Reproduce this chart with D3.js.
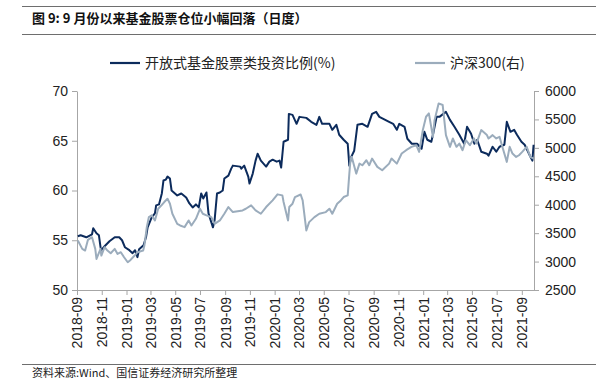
<!DOCTYPE html>
<html>
<head>
<meta charset="utf-8">
<script src="https://cdn.jsdelivr.net/npm/d3@7"></script>
<style>
  body { margin: 0; background: #fff; }
  svg text { font-family: "Liberation Sans", Arial, sans-serif; }
  .cjk { font-family: "Noto Sans CJK SC", sans-serif; }
</style>
</head>
<body>
<div id="visual"></div>
<script>
// series 1: 开放式基金股票类投资比例(%) - left axis
const fundDates = ["2018-09-03","2018-09-10","2018-09-24","2018-10-08","2018-10-11","2018-10-19","2018-10-25","2018-10-29","2018-10-31","2018-11-08","2018-11-20","2018-12-03","2018-12-14","2018-12-21","2018-12-28","2019-01-08","2019-01-16","2019-01-22","2019-01-28","2019-02-01","2019-02-12","2019-02-18","2019-02-22","2019-03-04","2019-03-12","2019-03-15","2019-03-22","2019-03-29","2019-04-02","2019-04-08","2019-04-12","2019-04-18","2019-04-22","2019-05-06","2019-05-16","2019-05-28","2019-06-05","2019-06-13","2019-06-21","2019-06-28","2019-07-04","2019-07-09","2019-07-17","2019-07-22","2019-07-29","2019-08-02","2019-08-06","2019-08-12","2019-08-19","2019-08-26","2019-08-30","2019-09-09","2019-09-16","2019-09-20","2019-10-08","2019-10-11","2019-10-18","2019-10-28","2019-10-31","2019-11-08","2019-11-15","2019-11-20","2019-11-28","2019-12-11","2019-12-19","2019-12-27","2020-01-06","2020-01-13","2020-01-17","2020-01-23","2020-02-03","2020-02-05","2020-02-14","2020-02-24","2020-03-02","2020-03-19","2020-03-31","2020-04-13","2020-04-20","2020-04-27","2020-05-15","2020-05-22","2020-06-01","2020-06-08","2020-06-19","2020-06-29","2020-07-03","2020-07-08","2020-07-15","2020-07-23","2020-08-04","2020-08-17","2020-08-28","2020-09-07","2020-09-15","2020-10-09","2020-10-19","2020-10-28","2020-11-03","2020-11-16","2020-11-23","2020-12-04","2020-12-17","2020-12-28","2021-01-04","2021-01-11","2021-01-21","2021-01-25","2021-02-03","2021-02-10","2021-02-26","2021-03-08","2021-03-19","2021-03-31","2021-04-12","2021-04-19","2021-04-29","2021-05-07","2021-05-14","2021-05-24","2021-06-07","2021-06-11","2021-06-21","2021-06-30","2021-07-08","2021-07-20","2021-07-26","2021-08-04","2021-08-13","2021-08-20","2021-08-31","2021-09-08","2021-09-22","2021-09-27","2021-09-30"];
const fundRatio = [55.4,55.5,55.3,55.6,56.2,55.7,55.5,54.3,54.0,54.4,54.9,55.3,55.3,55.0,54.3,54.0,53.7,54.0,53.3,54.1,54.5,55.3,56.3,57.3,57.7,58.5,58.6,59.7,61.0,61.1,61.4,61.2,60.0,59.5,59.7,59.3,58.7,58.3,58.6,58.3,59.7,59.2,59.8,57.7,56.8,56.3,57.0,59.7,59.8,60.0,61.2,61.5,62.2,62.5,62.4,62.2,62.5,61.4,60.7,61.7,63.0,63.7,63.0,62.4,62.9,63.1,62.9,63.0,62.3,64.9,65.1,67.7,67.6,66.7,67.4,67.3,66.9,66.6,67.4,66.7,66.7,66.1,66.6,65.6,65.1,64.7,62.5,63.4,64.0,66.6,66.7,66.4,67.7,67.9,67.4,66.9,66.7,66.1,66.7,66.4,65.2,64.7,64.7,64.2,65.9,65.1,64.9,65.6,67.4,67.4,67.9,67.1,66.4,65.6,64.7,66.4,65.7,64.7,65.1,63.9,63.7,63.5,64.4,63.9,64.4,64.6,66.9,65.9,66.1,65.6,64.9,64.6,63.4,63.0,64.6];

// series 2: 沪深300 - right axis
const csiDates = ["2018-09-03","2018-09-14","2018-09-21","2018-09-28","2018-10-08","2018-10-16","2018-10-19","2018-10-29","2018-10-31","2018-11-08","2018-11-15","2018-11-23","2018-12-03","2018-12-10","2018-12-18","2018-12-26","2019-01-04","2019-01-11","2019-01-21","2019-01-28","2019-02-11","2019-02-14","2019-02-20","2019-02-25","2019-03-04","2019-03-12","2019-03-20","2019-03-28","2019-04-04","2019-04-12","2019-04-18","2019-04-24","2019-05-06","2019-05-13","2019-05-24","2019-06-03","2019-06-10","2019-06-21","2019-07-01","2019-07-08","2019-07-17","2019-07-29","2019-08-06","2019-08-19","2019-08-30","2019-09-09","2019-09-20","2019-10-14","2019-10-22","2019-11-04","2019-11-15","2019-11-28","2019-12-11","2019-12-27","2020-01-08","2020-01-20","2020-01-23","2020-02-03","2020-02-06","2020-02-14","2020-02-20","2020-03-05","2020-03-10","2020-03-16","2020-03-19","2020-03-26","2020-04-08","2020-04-20","2020-05-06","2020-05-15","2020-05-22","2020-06-03","2020-06-12","2020-06-19","2020-06-29","2020-07-03","2020-07-06","2020-07-09","2020-07-20","2020-07-28","2020-08-04","2020-08-14","2020-08-21","2020-08-28","2020-09-10","2020-09-22","2020-10-09","2020-10-15","2020-10-28","2020-11-09","2020-11-20","2020-12-03","2020-12-15","2020-12-22","2020-12-31","2021-01-08","2021-01-15","2021-01-25","2021-01-29","2021-02-08","2021-02-18","2021-02-26","2021-03-08","2021-03-15","2021-03-24","2021-03-31","2021-04-08","2021-04-16","2021-04-26","2021-05-06","2021-05-12","2021-05-24","2021-06-07","2021-06-11","2021-06-21","2021-06-30","2021-07-08","2021-07-15","2021-07-26","2021-08-02","2021-08-09","2021-08-18","2021-08-25","2021-09-02","2021-09-13","2021-09-22","2021-09-30"];
const csi300 = [3370,3223,3194,3382,3429,3223,3047,3223,3106,3253,3194,3147,3223,3135,3165,3076,2988,3029,3106,3165,3194,3282,3606,3782,3812,3723,3929,3988,4047,4106,4018,3841,3664,3635,3606,3723,3635,3753,3929,3841,3812,3782,3664,3723,3841,3959,3870,3900,3929,3988,3900,3841,3959,4076,4182,4164,4047,3723,3959,4018,4135,4180,4076,3723,3547,3694,3782,3841,3870,3929,3841,4018,4076,4135,4164,4547,4812,4841,4547,4723,4694,4782,4694,4812,4665,4606,4723,4812,4723,4900,4959,5018,5047,4929,5312,5547,5606,5194,5488,5782,5753,5224,5018,5165,5018,5076,4959,5135,5047,5165,5076,5312,5224,5165,5224,5165,5194,5018,4753,5018,4900,4841,4870,4929,5018,4841,4812];

const leftTicks = [50, 55, 60, 65, 70];
const rightTicks = [2500, 3000, 3500, 4000, 4500, 5000, 5500, 6000];
const seriesNames = ["开放式基金股票类投资比例(%)", "沪深300(右)"];

const COLORS = { fund: "#0c2b5c", csi: "#9bacbc", axis: "#a6a6a6", rule: "#6e6e6e" };

let width = 606, height = 388;
let plot = { left: 77, right: 534, top: 91, bottom: 290 };

let svg = d3.select("#visual").append("svg")
    .attr("width", width)
    .attr("height", height)
    .style("background", "#fff");

let parse = d3.timeParse("%Y-%m-%d");

let x = d3.scaleTime()
    .domain([parse("2018-09-01"), parse("2021-10-01")])
    .range([plot.left, plot.right]);
let yL = d3.scaleLinear().domain([50, 70]).range([plot.bottom, plot.top]);
let yR = d3.scaleLinear().domain([2500, 6000]).range([plot.bottom, plot.top]);

// title block with rules
svg.append("line").attr("x1", 22).attr("x2", 596).attr("y1", 6.5).attr("y2", 6.5)
    .attr("stroke", COLORS.rule).attr("stroke-width", 1);
svg.append("text").attr("class", "cjk")
    .attr("x", 32).attr("y", 23)
    .style("font-size", "13px").style("font-weight", "700").style("fill", "#111")
    .text("图 9:  9 月份以来基金股票仓位小幅回落（日度）");
svg.append("line").attr("x1", 22).attr("x2", 596).attr("y1", 34.5).attr("y2", 34.5)
    .attr("stroke", COLORS.rule).attr("stroke-width", 1);

// legend
let legend = [
    { name: seriesNames[0], color: COLORS.fund, x: 110 },
    { name: seriesNames[1], color: COLORS.csi, x: 415 }
];
legend.forEach(function (d) {
    svg.append("line").attr("x1", d.x).attr("x2", d.x + 30).attr("y1", 63).attr("y2", 63)
        .attr("stroke", d.color).attr("stroke-width", 2.2);
    svg.append("text").attr("class", "cjk")
        .attr("x", d.x + 35).attr("y", 68)
        .style("font-size", "14px").style("fill", "#222")
        .text(d.name);
});

// axes
function styleAxis(g) {
    g.select(".domain").attr("stroke", COLORS.axis);
    g.selectAll(".tick line").attr("stroke", COLORS.axis);
    g.selectAll(".tick text").style("font-size", "14px").style("fill", "#222")
        .style("font-family", "Liberation Sans, Arial, sans-serif");
}

svg.append("g")
    .attr("transform", "translate(" + plot.left + ",0)")
    .call(d3.axisLeft(yL).tickValues(leftTicks).tickSize(5).tickPadding(4).tickSizeOuter(0))
    .call(styleAxis);

svg.append("g")
    .attr("transform", "translate(" + plot.right + ",0)")
    .call(d3.axisRight(yR).tickValues(rightTicks).tickFormat(d3.format("d"))
        .tickSize(5).tickPadding(6).tickSizeOuter(0))
    .call(styleAxis);

let xAxis = svg.append("g")
    .attr("transform", "translate(0," + plot.bottom + ")")
    .call(d3.axisBottom(x).ticks(d3.timeMonth.every(2)).tickFormat(d3.timeFormat("%Y-%m"))
        .tickSize(5).tickSizeOuter(0))
    .call(styleAxis);
xAxis.selectAll(".tick text")
    .attr("transform", "rotate(-90)")
    .attr("text-anchor", "end")
    .attr("x", -7)
    .attr("y", 0)
    .attr("dy", "0.35em");

// lines
let fundData = fundDates.map(function (d, i) { return { date: parse(d), value: fundRatio[i] }; });
let csiData = csiDates.map(function (d, i) { return { date: parse(d), value: csi300[i] }; });

let lineL = d3.line().x(function (d) { return x(d.date); }).y(function (d) { return yL(d.value); });
let lineR = d3.line().x(function (d) { return x(d.date); }).y(function (d) { return yR(d.value); });

svg.append("path").datum(fundData)
    .attr("d", lineL)
    .attr("fill", "none").attr("stroke", COLORS.fund).attr("stroke-width", 2)
    .attr("stroke-linejoin", "round");

svg.append("path").datum(csiData)
    .attr("d", lineR)
    .attr("fill", "none").attr("stroke", COLORS.csi).attr("stroke-width", 2)
    .attr("stroke-linejoin", "round");

// source
svg.append("line").attr("x1", 22).attr("x2", 596).attr("y1", 364.5).attr("y2", 364.5)
    .attr("stroke", COLORS.rule).attr("stroke-width", 1);
svg.append("text").attr("class", "cjk")
    .attr("x", 32).attr("y", 377)
    .style("font-size", "11px").style("fill", "#222")
    .text("资料来源:Wind、国信证券经济研究所整理");
</script>
</body>
</html>
